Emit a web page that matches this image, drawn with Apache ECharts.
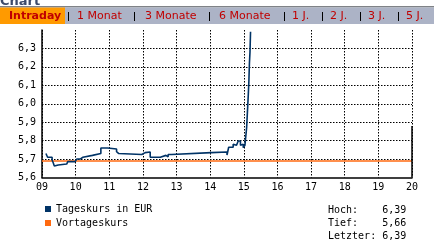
<!DOCTYPE html>
<html>
<head>
<meta charset="utf-8">
<script src="https://cdn.jsdelivr.net/npm/echarts@6/dist/echarts.min.js"></script>
<style>html,body{margin:0;padding:0;background:#fff;}#c{width:434px;height:244px;}</style>
</head>
<body>
<div id="c"></div>
<script>
// ---- data ----
const times = ['09:07','09:10','09:18','09:20','09:22','09:24','09:29','09:44','09:46','09:50','09:53','09:59',
  '10:02','10:08','10:13','10:30','10:45','10:57','11:13','11:15','11:17','11:58','12:04','12:13','12:31',
  '12:41','12:45','12:51','14:02','14:30','14:33','14:41','14:44','14:47','14:50','14:54','14:57','14:59',
  '15:02','15:05','15:07','15:08','15:09','15:10','15:11','15:12'];
const prices = [5.73,5.71,5.695,5.68,5.662,5.668,5.673,5.668,5.686,5.68,5.686,5.695,
  5.70,5.71,5.72,5.73,5.76,5.755,5.74,5.73,5.725,5.735,5.738,5.71,5.72,
  5.712,5.725,5.735,5.738,5.722,5.764,5.78,5.775,5.78,5.798,5.775,5.78,5.762,
  5.775,5.87,5.99,6.05,6.12,6.22,6.28,6.39];
const prevClose = 5.69;
const edgeLine = [[20, 5.6], [20, 5.88]];
const xTickLabels = ['09','10','11','12','13','14','15','16','17','18','19','20'];
const yTickLabels = ['5,6','5,7','5,8','5,9','6,0','6,1','6,2','6,3',''];
const seriesNames = ['Tageskurs in EUR', 'Vortageskurs'];
const statLabels = ['Hoch:', 'Tief:', 'Letzter:'];
const statValues = ['6,39', '5,66', '6,39'];
const tabs = ['1 Monat', '3 Monate', '6 Monate', '1 J.', '2 J.', '3 J.', '5 J.'];
const tabX = [77, 145, 219, 292, 330, 368, 406];
const sepX = [68, 134, 209, 284, 322, 360, 398];

function toHour(s){ const p = s.split(':'); return +p[0] + (+p[1]) / 60; }

const mono = 'DejaVu Sans Mono';
const chart = echarts.init(document.getElementById('c'), null, {renderer: 'canvas'});

const graphics = [
  {type:'text', x: 0, y: 8, z: 1, style:{text:'Chart', font:'bold 13px "DejaVu Sans"', fill:'#3c4a6a', verticalAlign:'bottom'}},
  {type:'rect', z: 2, shape:{x:0, y:6, width:434, height:1.5}, style:{fill:'#7f8287'}},
  {type:'rect', z: 2, shape:{x:0, y:7.5, width:434, height:16.5}, style:{fill:'#acb3c6'}},
  {type:'rect', z: 3, shape:{x:0, y:7.5, width:65, height:16.5}, style:{fill:'#ff9a00'}},
  {type:'text', z: 4, x: 9, y: 16.5, style:{text:'Intraday', font:'bold 11px "DejaVu Sans"', fill:'#c00000', verticalAlign:'middle'}}
];
tabs.forEach((t, i) => {
  graphics.push({type:'text', z: 4, x: tabX[i], y: 16.5, style:{text:t, font:'11px "DejaVu Sans"', fill:'#c00000', verticalAlign:'middle'}});
});
sepX.forEach(x => {
  graphics.push({type:'rect', z: 4, shape:{x:x, y:12, width:1, height:9}, style:{fill:'#000'}});
});
statLabels.forEach((l, i) => {
  graphics.push({type:'text', x: 328, y: 210 + i * 13,
    style:{text: l.padEnd(9, ' ') + statValues[i], font:'10px "' + mono + '"', fill:'#000', verticalAlign:'middle'}});
});

const gridLine = {color: '#000', width: 1, type: [1.5, 1.5]};

chart.setOption({
  animation: false,
  backgroundColor: '#fff',
  grid: {left: 42, right: 22, top: 30, bottom: 66.5, containLabel: false},
  legend: {
    data: seriesNames, orient: 'vertical', left: 40, top: 198,
    icon: 'rect', itemWidth: 6, itemHeight: 6, itemGap: 2,
    textStyle: {fontFamily: mono, fontSize: 10, color: '#000', lineHeight: 12},
    selectedMode: false
  },
  xAxis: {
    type: 'value', min: 9, max: 20, interval: 1,
    axisLine: {show: true, lineStyle: {color: '#000', width: 1.5}},
    axisTick: {show: false},
    axisLabel: {fontFamily: mono, fontSize: 10, color: '#000', margin: 5,
      formatter: (v) => xTickLabels[Math.round(v - 9)]},
    splitLine: {show: true, lineStyle: gridLine}
  },
  yAxis: {
    type: 'value', min: 5.6, max: 6.4, interval: 0.1,
    axisLine: {show: true, lineStyle: {color: '#000', width: 1.5}},
    axisTick: {show: false},
    axisLabel: {fontFamily: mono, fontSize: 10, color: '#000', margin: 6, padding: [3, 0, 0, 0],
      formatter: (v) => yTickLabels[Math.round((v - 5.6) * 10)]},
    splitLine: {show: true, showMaxLine: false, showMinLine: false, lineStyle: gridLine}
  },
  series: [
    {name: seriesNames[0], type: 'line', step: 'end', symbol: 'none',
      data: times.map((t, i) => [toHour(t), prices[i]]),
      lineStyle: {color: '#003366', width: 1.6}, itemStyle: {color: '#003366'}, z: 4},
    {name: seriesNames[1], type: 'line', symbol: 'none',
      data: [[9, prevClose], [20, prevClose]],
      lineStyle: {color: '#ff6a10', width: 1.5, type: 'solid'}, itemStyle: {color: '#ff6a10'}, z: 3},
    {name: 'edge', type: 'line', symbol: 'none', data: edgeLine,
      lineStyle: {color: '#000', width: 1.5}, z: 3}
  ],
  graphic: graphics
});
</script>
</body>
</html>
